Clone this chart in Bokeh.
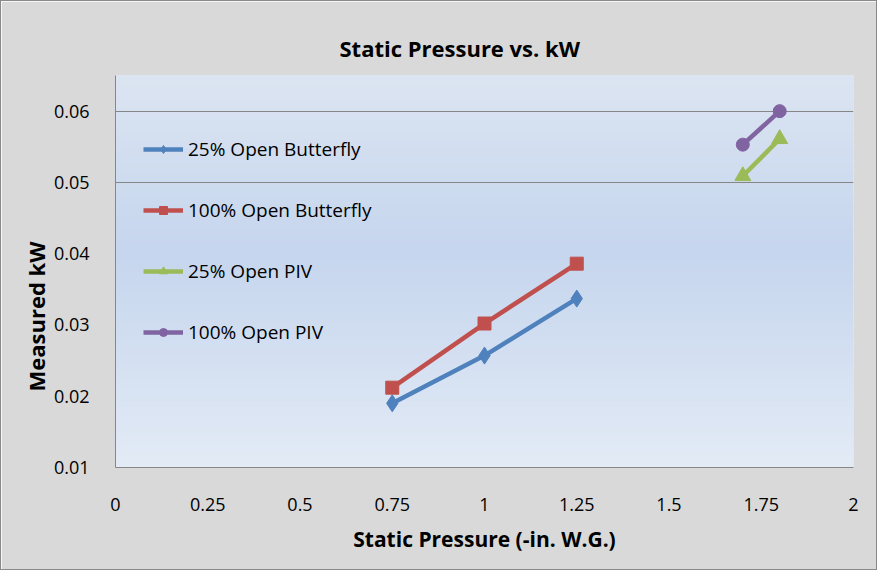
import numpy as np
from bokeh.plotting import figure
from bokeh.models import Range1d, FixedTicker, Legend, LegendItem, NumeralTickFormatter, Title
from bokeh.embed import file_html
from bokeh.resources import INLINE

# ---- data ----
butterfly25_x = [0.75, 1.0, 1.25]
butterfly25_y = [0.0190, 0.0257, 0.0337]
butterfly100_x = [0.75, 1.0, 1.25]
butterfly100_y = [0.0212, 0.0302, 0.0386]
piv25_x = [1.70, 1.80]
piv25_y = [0.0509, 0.0561]
piv100_x = [1.70, 1.80]
piv100_y = [0.0553, 0.0600]

x_ticks = [0, 0.25, 0.5, 0.75, 1, 1.25, 1.5, 1.75, 2]
x_tick_labels = ["0", "0.25", "0.5", "0.75", "1", "1.25", "1.5", "1.75", "2"]
y_ticks = [0.01, 0.02, 0.03, 0.04, 0.05, 0.06]
grid_ticks = [0.05, 0.06]

FONT = "Open Sans"
W, H = 877, 570

p = figure(width=W, height=H, output_backend="svg", toolbar_location=None,
           x_range=Range1d(0, 2), y_range=Range1d(0.01, 0.065),
           min_border_left=114, min_border_right=25, min_border_top=74, min_border_bottom=104,
           title="Static Pressure vs. kW")

p.border_fill_color = "#D9D9D9"
p.background_fill_color = "#D5E0F1"
p.outline_line_color = None
p.styles = {"border": "1px solid #8A8A8A"}

# gradient background of plot area
n = 200
t = np.linspace(0, 1, n)  # bottom -> top
bottom = np.array([0xE3, 0xEB, 0xF6])
mid = np.array([0xC6, 0xD6, 0xEE])
top = np.array([0xDC, 0xE5, 0xF2])
cols = np.zeros((n, 3))
for i, v in enumerate(t):
    m = 0.55
    if v < m:
        f = v / m
        cols[i] = bottom * (1 - f) + mid * f
    else:
        f = (v - m) / (1 - m)
        cols[i] = mid * (1 - f) + top * f
img = np.zeros((n, 1), dtype=np.uint32)
view = img.view(dtype=np.uint8).reshape((n, 1, 4))
view[:, 0, 0] = cols[:, 0].astype(np.uint8)
view[:, 0, 1] = cols[:, 1].astype(np.uint8)
view[:, 0, 2] = cols[:, 2].astype(np.uint8)
view[:, 0, 3] = 255
p.image_rgba(image=[img], x=0, y=0.01, dw=2, dh=0.055, level="image")

# title
p.title.text_font = FONT
p.title.text_font_size = "22px"
p.title.text_font_style = "bold"
p.title.align = "left"
p.title.offset = 224
p.title.standoff = 25
p.title.text_color = "black"

# grid
p.xgrid.visible = False
p.ygrid.ticker = FixedTicker(ticks=grid_ticks)
p.ygrid.grid_line_color = "#868686"
p.ygrid.grid_line_width = 1

# axes
p.xaxis.ticker = FixedTicker(ticks=x_ticks)
p.xaxis.major_label_overrides = {t_: l for t_, l in zip(x_ticks, x_tick_labels)}
p.yaxis.ticker = FixedTicker(ticks=y_ticks)
p.yaxis.formatter = NumeralTickFormatter(format="0.00")
for ax in (p.xaxis, p.yaxis):
    ax.axis_line_color = "#868686"
    ax.major_tick_line_color = None
    ax.minor_tick_line_color = None
    ax.major_label_text_font = FONT
    ax.major_label_text_font_size = "18px"
    ax.major_label_text_color = "black"
    ax.axis_label_text_font = FONT
    ax.axis_label_text_font_style = "bold"
    ax.axis_label_text_font_size = "21px"
    ax.axis_label_text_color = "black"
p.xaxis.major_label_standoff = 24
p.yaxis.major_label_standoff = 20
p.xaxis.axis_label = "Static Pressure (-in. W.G.)"
p.xaxis.axis_label_standoff = 11

ytitle = Title(text="Measured kW", align="left", offset=76, standoff=0,
               text_font=FONT, text_font_style="bold", text_font_size="22px", text_color="black")
p.add_layout(ytitle, "left")

# series
C_BLUE, C_RED, C_GREEN, C_PURPLE = "#4F81BD", "#C0504D", "#9BBB59", "#8064A2"
LW = 4.5

l1 = p.line(butterfly25_x, butterfly25_y, line_color=C_BLUE, line_width=LW)
m1 = p.scatter(butterfly25_x, butterfly25_y, marker="diamond", size=17, fill_color=C_BLUE, line_color=C_BLUE)
l2 = p.line(butterfly100_x, butterfly100_y, line_color=C_RED, line_width=LW)
m2 = p.scatter(butterfly100_x, butterfly100_y, marker="square", size=13, fill_color=C_RED, line_color=C_RED)
l3 = p.line(piv25_x, piv25_y, line_color=C_GREEN, line_width=LW)
m3 = p.scatter(piv25_x, piv25_y, marker="triangle", size=16, fill_color=C_GREEN, line_color=C_GREEN)
l4 = p.line(piv100_x, piv100_y, line_color=C_PURPLE, line_width=LW)
m4 = p.scatter(piv100_x, piv100_y, marker="circle", size=13, fill_color=C_PURPLE, line_color=C_PURPLE)

legend = Legend(items=[
    LegendItem(label="25% Open Butterfly", renderers=[l1, m1]),
    LegendItem(label="100% Open Butterfly", renderers=[l2, m2]),
    LegendItem(label="25% Open PIV", renderers=[l3, m3]),
    LegendItem(label="100% Open PIV", renderers=[l4, m4]),
], location=(28, 122))
legend.background_fill_alpha = 0
legend.border_line_color = None
legend.label_text_font = FONT
legend.label_text_font_size = "19px"
legend.label_text_color = "black"
legend.glyph_width = 40
legend.glyph_height = 20
legend.label_height = 20
legend.label_standoff = 5
legend.spacing = 35
legend.padding = 0
legend.margin = 0
p.add_layout(legend, "center")

open("out.html", "w").write(file_html(p, INLINE))
